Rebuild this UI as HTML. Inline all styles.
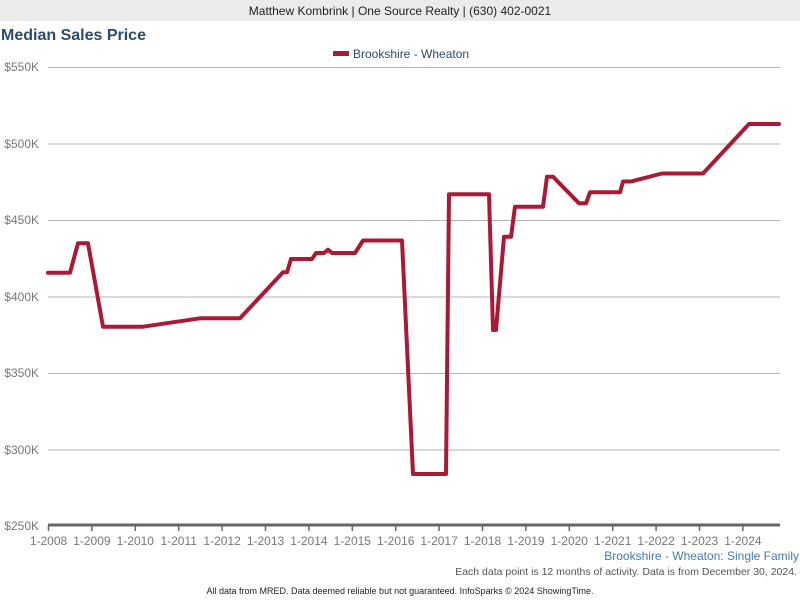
<!DOCTYPE html>
<html><head><meta charset="utf-8"><style>
body{margin:0;width:800px;height:600px;background:#fff;font-family:"Liberation Sans",sans-serif;overflow:hidden}
</style></head><body>
<svg width="800" height="600" xmlns="http://www.w3.org/2000/svg" font-family="Liberation Sans, sans-serif">
<rect x="0" y="0" width="800" height="21" fill="#ebebeb"/>
<text x="400" y="15" text-anchor="middle" font-size="12" fill="#222">Matthew Kombrink | One Source Realty | (630) 402-0021</text>
<text x="1" y="40" font-size="16" font-weight="bold" fill="#2c4a6e">Median Sales Price</text>
<rect x="333" y="51" width="16" height="5" fill="#aa1a35"/>
<text x="353" y="58" font-size="12" fill="#2c4a6e">Brookshire - Wheaton</text>
<g stroke="#b3b3b3" stroke-width="1">
<line x1="48" y1="67.5" x2="780" y2="67.5"/>
<line x1="48" y1="144" x2="780" y2="144"/>
<line x1="48" y1="220.5" x2="780" y2="220.5"/>
<line x1="48" y1="297" x2="780" y2="297"/>
<line x1="48" y1="373.5" x2="780" y2="373.5"/>
<line x1="48" y1="450" x2="780" y2="450"/>
</g>
<g font-size="12" fill="#777" text-anchor="end">
<text x="39" y="71">$550K</text><text x="39" y="148">$500K</text><text x="39" y="224">$450K</text>
<text x="39" y="301">$400K</text><text x="39" y="377">$350K</text><text x="39" y="454">$300K</text><text x="39" y="530">$250K</text>
</g>
<line x1="48" y1="525" x2="780" y2="525" stroke="#666" stroke-width="3"/>
<g stroke="#666" stroke-width="1.5">
<line x1="48.5" y1="525" x2="48.5" y2="531"/><line x1="91.9" y1="525" x2="91.9" y2="531"/><line x1="135.3" y1="525" x2="135.3" y2="531"/><line x1="178.7" y1="525" x2="178.7" y2="531"/><line x1="222.1" y1="525" x2="222.1" y2="531"/><line x1="265.5" y1="525" x2="265.5" y2="531"/><line x1="308.9" y1="525" x2="308.9" y2="531"/><line x1="352.3" y1="525" x2="352.3" y2="531"/><line x1="395.7" y1="525" x2="395.7" y2="531"/><line x1="439.1" y1="525" x2="439.1" y2="531"/><line x1="482.5" y1="525" x2="482.5" y2="531"/><line x1="525.9" y1="525" x2="525.9" y2="531"/><line x1="569.3" y1="525" x2="569.3" y2="531"/><line x1="612.7" y1="525" x2="612.7" y2="531"/><line x1="656.1" y1="525" x2="656.1" y2="531"/><line x1="699.5" y1="525" x2="699.5" y2="531"/><line x1="742.9" y1="525" x2="742.9" y2="531"/>
</g>
<g font-size="12" fill="#777" text-anchor="middle">
<text x="48.5" y="545">1-2008</text><text x="91.9" y="545">1-2009</text><text x="135.3" y="545">1-2010</text><text x="178.7" y="545">1-2011</text><text x="222.1" y="545">1-2012</text><text x="265.5" y="545">1-2013</text><text x="308.9" y="545">1-2014</text><text x="352.3" y="545">1-2015</text><text x="395.7" y="545">1-2016</text><text x="439.1" y="545">1-2017</text><text x="482.5" y="545">1-2018</text><text x="525.9" y="545">1-2019</text><text x="569.3" y="545">1-2020</text><text x="612.7" y="545">1-2021</text><text x="656.1" y="545">1-2022</text><text x="699.5" y="545">1-2023</text><text x="742.9" y="545">1-2024</text>
</g>
<polyline fill="none" stroke="#aa1a35" stroke-width="4" stroke-linejoin="round" stroke-linecap="round" points="48,272.7 70,272.7 78,243.3 88,243.3 103,326.7 143,326.7 200,318.3 240,318.3 283,272.3 287,272.3 291,259 312,259 316,253 324,253 328,249.7 332,253 355,253 363,240.5 402,240.5 413,474 446,474 449,194.3 489,194.3 493,330 496,330 504,236.7 511,236.7 515,206.7 543,206.7 547,176.7 553,176.7 579,203.3 586,203.3 590,192.3 620,192.3 623,181.5 631,181.5 662,173.5 703,173.5 749,124 779,124"/>
<text x="799" y="560" text-anchor="end" font-size="12" fill="#4a78b0">Brookshire - Wheaton: Single Family</text>
<text x="797" y="575" text-anchor="end" font-size="10.5" fill="#555">Each data point is 12 months of activity. Data is from December 30, 2024.</text>
<text x="400" y="594" text-anchor="middle" font-size="9" fill="#222">All data from MRED. Data deemed reliable but not guaranteed. InfoSparks © 2024 ShowingTime.</text>
</svg>
</body></html>
